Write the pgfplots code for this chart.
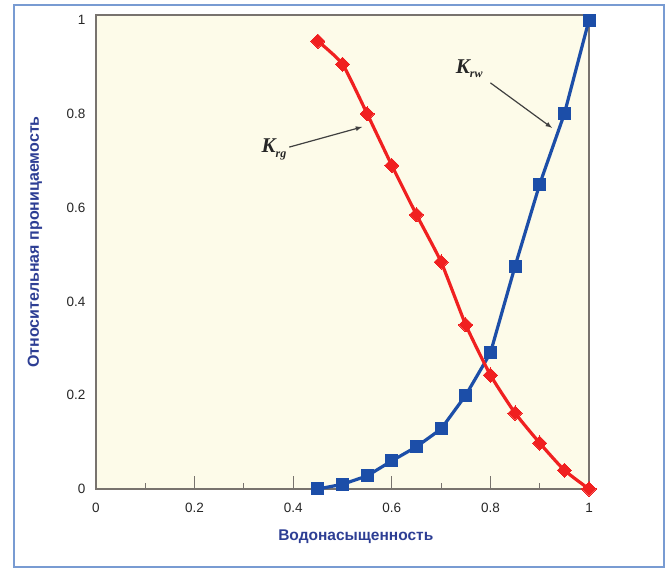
\documentclass[border=0pt]{standalone}
\usepackage{fontspec}
\setmainfont{Liberation Sans}
\newfontfamily\kserif{Liberation Serif}
\usepackage{pgfplots}
\pgfplotsset{compat=1.18}
\definecolor{bgc}{RGB}{253,251,233}
\definecolor{redc}{RGB}{240,32,32}
\definecolor{bluec}{RGB}{28,78,168}
\definecolor{framec}{RGB}{120,155,210}
\definecolor{labc}{RGB}{45,62,148}
\definecolor{axc}{RGB}{120,115,110}
\begin{document}
\begin{tikzpicture}[x=1pt,y=1pt]
\path[use as bounding box] (-96,-80) rectangle (573,489);
\draw[framec, line width=1.3pt] (-82,-78) rectangle (568,484);
\begin{axis}[
  at={(0,0)}, anchor=south west,
  scale only axis, width=493pt, height=474pt,
  xmin=0, xmax=1, ymin=0, ymax=1.0107,
  axis background/.style={fill=bgc},
  axis line style={axc, line width=1.2pt},
  xtick={0,0.2,0.4,0.6,0.8,1},
  xticklabels={0,0.2,0.4,0.6,0.8,1},
  minor xtick={0.1,0.3,0.5,0.7,0.9},
  ytick={0,0.2,0.4,0.6,0.8,1},
  yticklabels={0,0.2,0.4,0.6,0.8,1},
  xtick pos=bottom, ytick pos=left,
  tick align=inside,
  major tick length=13pt, minor tick length=6pt,
  xtick style={axc, line width=1pt},
  ytick style={draw=none},
  xticklabel style={font=\fontsize{13.5}{15}\selectfont, text=black!85, yshift=-11pt},
  yticklabel style={font=\fontsize{13.5}{15}\selectfont, text=black!85, xshift=-7pt},
  xlabel={Водонасыщенность},
  ylabel={Относительная проницаемость},
  every axis x label/.style={at={(axis description cs:0.527,-0.101)}, anchor=center, font=\bfseries\fontsize{15.5}{17}\selectfont, text=labc},
  every axis y label/.style={at={(axis description cs:-0.124,0.521)}, anchor=center, rotate=90, font=\bfseries\fontsize{16}{18}\selectfont, text=labc},
  clip=false,
]
\addplot[bluec, line width=3.2pt, mark=square*, mark size=6pt, mark options={solid, fill=bluec, line width=0pt}] coordinates {
(0.45,0.0) (0.5,0.01) (0.55,0.028) (0.6,0.06) (0.65,0.09) (0.7,0.128) (0.75,0.20) (0.8,0.29) (0.85,0.475) (0.9,0.65) (0.95,0.80) (1.0,1.0)
};
\addplot[redc, line width=3.2pt, smooth, tension=0.3, mark=square*, mark size=5pt, mark options={solid, fill=redc, line width=0pt, rotate=45}] coordinates {
(0.45,0.955) (0.5,0.906) (0.55,0.80) (0.6,0.69) (0.65,0.585) (0.7,0.484) (0.75,0.35) (0.8,0.243) (0.85,0.162) (0.9,0.098) (0.95,0.04) (1.0,0.0)
};
\node[font=\kserif\bfseries\itshape\fontsize{21}{23}\selectfont, text=black!85] at (axis cs:0.361,0.724) {K\raisebox{-0.45ex}{\fontsize{12}{14}\selectfont rg}};
\draw[-latex, black!75, line width=1.2pt] (axis cs:0.392,0.729) -- (axis cs:0.540,0.772);
\node[font=\kserif\bfseries\itshape\fontsize{21}{23}\selectfont, text=black!85] at (axis cs:0.757,0.896) {K\raisebox{-0.45ex}{\fontsize{12}{14}\selectfont rw}};
\draw[-latex, black!75, line width=1.2pt] (axis cs:0.800,0.866) -- (axis cs:0.925,0.770);
\end{axis}
\end{tikzpicture}
\end{document}
